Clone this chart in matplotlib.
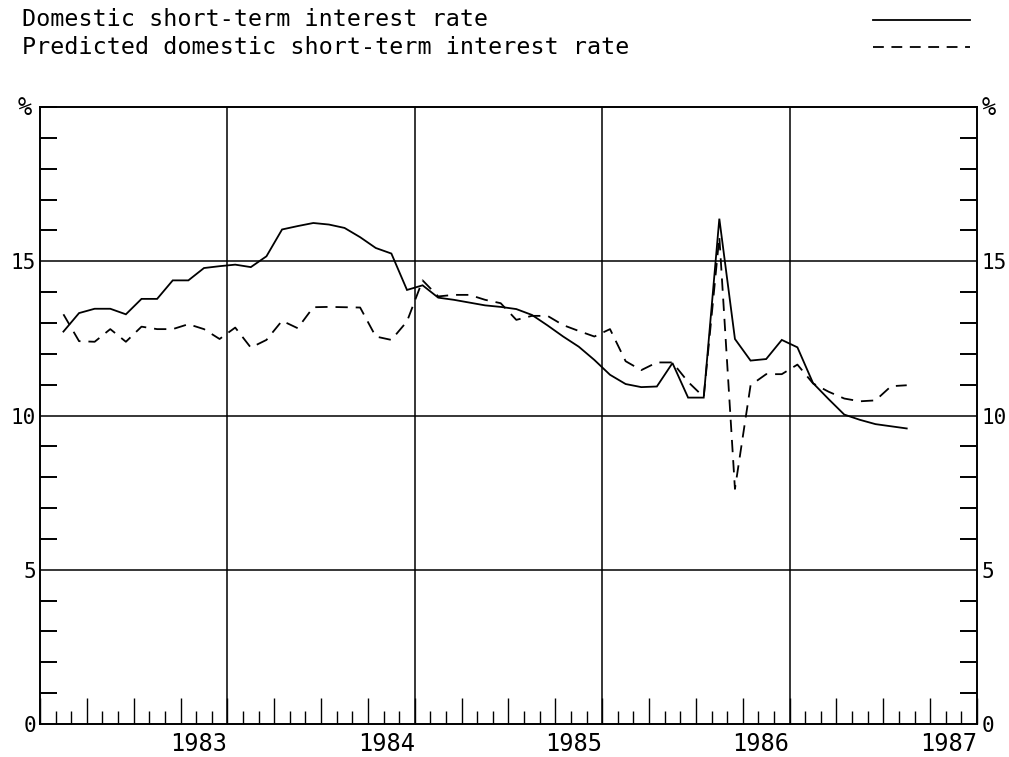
import numpy as np
import matplotlib
matplotlib.use("Agg")
import matplotlib.pyplot as plt
from matplotlib.lines import Line2D

plt.rcParams['font.family'] = ['DejaVu Sans Mono']

# monthly observations, Feb 1982 .. Aug 1986 (plotted mid-month)
start_year = 1982
start_month = 2
actual = [
    12.72, 13.32, 13.46, 13.46, 13.28, 13.78, 13.78, 14.38, 14.38, 14.78, 14.84,          # 1982
    14.89, 14.81, 15.16, 16.03, 16.14, 16.24, 16.19, 16.08, 15.78, 15.43, 15.25, 14.07,   # 1983
    14.22, 13.82, 13.75, 13.66, 13.57, 13.52, 13.45, 13.26, 12.92, 12.56, 12.23, 11.80,   # 1984
    11.32, 11.02, 10.92, 10.94, 11.70, 10.58, 10.58, 16.38, 12.48, 11.78, 11.83, 12.45,   # 1985
    12.21, 11.05, 10.53, 10.03, 9.86, 9.72, 9.65, 9.58,                                   # 1986
]
predicted = [
    13.28, 12.41, 12.39, 12.80, 12.39, 12.88, 12.80, 12.80, 12.96, 12.80, 12.48,          # 1982
    12.85, 12.20, 12.45, 13.07, 12.83, 13.51, 13.52, 13.51, 13.50, 12.56, 12.45, 13.05,   # 1983
    14.38, 13.86, 13.91, 13.91, 13.75, 13.64, 13.10, 13.23, 13.23, 12.93, 12.74, 12.56,   # 1984
    12.80, 11.76, 11.47, 11.72, 11.72, 11.09, 10.60, 15.80, 7.62, 10.98, 11.34, 11.34,    # 1985
    11.65, 11.04, 10.77, 10.55, 10.46, 10.49, 10.95, 10.98,                               # 1986
]
year_labels = [1983, 1984, 1985, 1986, 1987]
y_major = [0, 5, 10, 15]
legend_labels = ["Domestic short-term interest rate",
                 "Predicted domestic short-term interest rate"]

months = np.arange(len(actual)) + (start_month - 1)
x = start_year + (months + 0.5) / 12.0

fig = plt.figure(figsize=(10.09, 7.57), dpi=100)
ax = fig.add_axes([40 / 1009, 1 - 724 / 757, 937 / 1009, 617 / 757])

lw = 1.3
ax.plot(x, actual, color='black', lw=lw, solid_joinstyle='miter')
ax.plot(x, predicted, color='black', lw=lw, dashes=(6.8, 4.4))

ax.set_xlim(1982, 1987)
ax.set_ylim(0, 20)

# grid lines (years / every 5 %)
for yr in year_labels[:-1]:
    ax.axvline(yr, color='black', lw=1.1, zorder=0)
for yv in y_major[1:]:
    ax.axhline(yv, color='black', lw=1.1, zorder=0)

for s in ax.spines.values():
    s.set_linewidth(1.4)

# x ticks: quarters long, months short
quarters = np.arange(1982, 1987.001, 0.25)
ax.set_xticks(quarters)
ax.set_xticklabels([str(int(round(q))) if abs(q - round(q)) < 1e-6 and round(q) in year_labels else ''
                    for q in quarters])
ax.set_xticks(np.arange(1982, 1987.001, 1 / 12), minor=True)
ax.tick_params(axis='x', which='major', direction='in', length=19, width=1.0,
               labelsize=17, pad=6, top=False)
ax.tick_params(axis='x', which='minor', direction='in', length=9.5, width=1.0, top=False)
plt.setp(ax.get_xticklabels(), ha='right')

# y ticks: labels at 0/5/10/15 both sides, minor every 1 %
ax.set_yticks(y_major)
ax.set_yticklabels([str(v) for v in y_major])
ax.set_yticks(np.arange(0, 21, 1), minor=True)
ax.tick_params(axis='y', which='major', length=0, labelsize=15, pad=3,
               left=True, right=True, labelleft=True, labelright=True)
ax.tick_params(axis='y', which='minor', direction='in', length=12.5, width=1.4,
               left=True, right=True)

fig.text(25 / 1009, 1 - 108 / 757, '%', ha='center', va='center', fontsize=17)
fig.text(989 / 1009, 1 - 108 / 757, '%', ha='center', va='center', fontsize=17)

# legend at the top
fig.text(22 / 1009, 1 - 20 / 757, legend_labels[0], ha='left', va='center', fontsize=16.8)
fig.text(22 / 1009, 1 - 47 / 757, legend_labels[1], ha='left', va='center', fontsize=16.8)
fig.add_artist(Line2D([873 / 1009, 970 / 1009], [1 - 20 / 757, 1 - 20 / 757],
                      color='black', lw=lw, transform=fig.transFigure))
fig.add_artist(Line2D([873 / 1009, 970 / 1009], [1 - 47 / 757, 1 - 47 / 757],
                      color='black', lw=lw, dashes=(6.0, 4.2), transform=fig.transFigure))

fig.savefig('out.png', dpi=100)
